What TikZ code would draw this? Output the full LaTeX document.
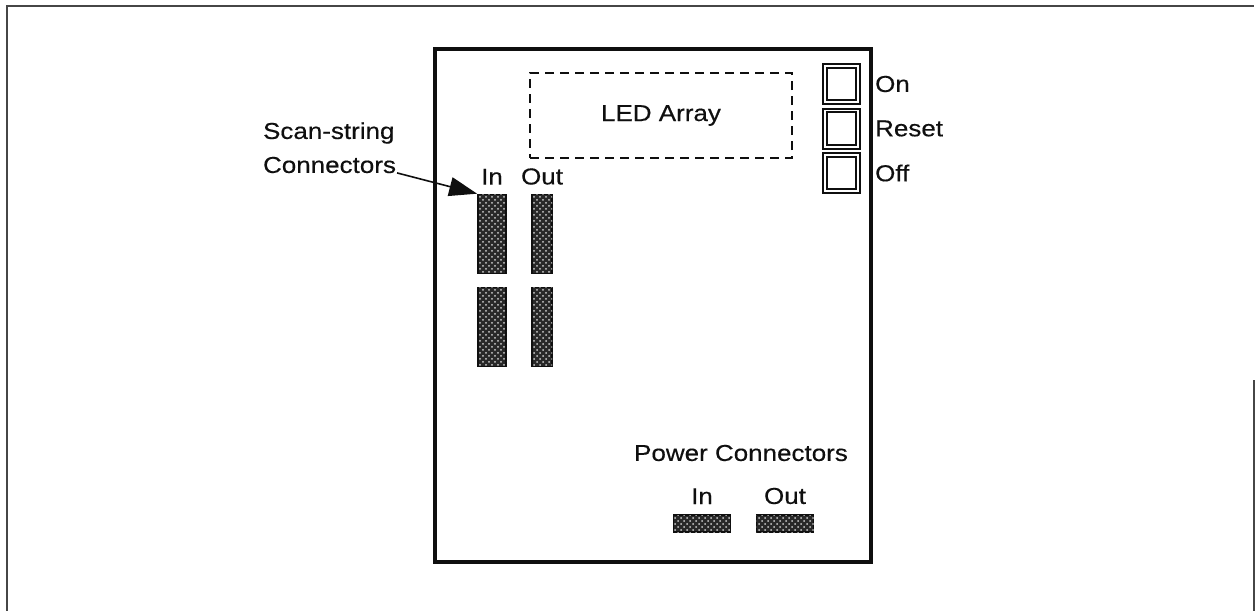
\documentclass[tikz,border=0pt]{standalone}
\usepackage{fontspec}
\setmainfont[FakeStretch=1.13, FakeBold=0.4]{Liberation Sans}
\usepackage{tikz}
\usetikzlibrary{
  arrows.meta,
  positioning,
  patterns
}
\definecolor{boardblack}{RGB}{15,15,15}
\definecolor{padfill}{RGB}{40,40,40}
\definecolor{paddot}{RGB}{205,205,205}
\definecolor{pagegray}{RGB}{70,70,70}
\tikzset{
  boardFrame/.style={
    rectangle,
    draw=boardblack,
    line width=1.8pt,
    inner sep=0pt,
    minimum width=218pt,
    minimum height=256.5pt
  },
  ledBox/.style={
    rectangle,
    draw=boardblack,
    line width=1.1pt,
    dash pattern=on 4.5pt off 3pt,
    minimum width=131pt,
    minimum height=42.5pt,
    align=center
  },
  switchBox/.style={
    rectangle,
    draw=boardblack,
    line width=1pt,
    double=white,
    double distance=0.9pt,
    inner sep=0pt,
    minimum width=16.6pt,
    minimum height=18.1pt
  },
  padBlock/.style={
    rectangle,
    draw=boardblack,
    line width=0.8pt,
    fill=padfill,
    postaction={pattern=crosshatch dots, pattern color=paddot},
    inner sep=0pt
  },
  padIn/.style={padBlock, minimum width=14pt, minimum height=39.5pt},
  padOut/.style={padBlock, minimum width=10pt, minimum height=39.5pt},
  padFlat/.style={padBlock, minimum width=28.5pt, minimum height=8.5pt},
  panelText/.style={
    font=\fontsize{11.5}{13}\selectfont,
    text=boardblack
  },
  callArrow/.style={
    -{Triangle[length=14pt, width=9.5pt]},
    line width=0.8pt,
    draw=boardblack
  }
}

\begin{document}
\begin{tikzpicture}[x=0.5pt, y=-0.5pt, node distance=4.5pt]
  \useasboundingbox (0,0) rectangle (1255,611);
  % page edge
  \draw[line width=0.8pt, draw=pagegray] (7,611) -- (7,6) -- (1254,6);
  \draw[line width=0.6pt, draw=pagegray] (1254,380) -- (1254,611);

  \node[boardFrame] (board) at (653,305.5) {};
  \node[ledBox, panelText] (led) at (661,115.5) {LED Array};

  \node[switchBox] (onSw) at (841.5,84) {};
  \node[switchBox] (resetSw) at (841.5,128.5) {};
  \node[switchBox] (offSw) at (841.5,173) {};
  \node[panelText, right=of onSw] (onLbl) {On};
  \node[panelText, right=of resetSw] (resetLbl) {Reset};
  \node[panelText, right=of offSw] (offLbl) {Off};

  \node[panelText, anchor=west] (scanLbl) at (256,133) {Scan-string};
  \node[panelText, anchor=west] (connLbl) at (256,165) {Connectors};

  \node[padIn] (scanInA) at (492,234) {};
  \node[padOut] (scanOutA) at (542,234) {};
  \node[padIn] (scanInB) at (492,327) {};
  \node[padOut] (scanOutB) at (542,327) {};
  \node[panelText, above=1pt of scanInA] (scanInLbl) {In};
  \node[panelText, above=1pt of scanOutA] (scanOutLbl) {Out};

  \draw[callArrow] ([xshift=-3pt]connLbl.base east) -- (scanInA.north west);

  \node[panelText] (powerLbl) at (741,453) {Power Connectors};
  \node[padFlat] (powerIn) at (702,523.5) {};
  \node[padFlat] (powerOut) at (785,523.5) {};
  \node[panelText, above=1.5pt of powerIn] (powerInLbl) {In};
  \node[panelText, above=1.5pt of powerOut] (powerOutLbl) {Out};
\end{tikzpicture}
\end{document}
